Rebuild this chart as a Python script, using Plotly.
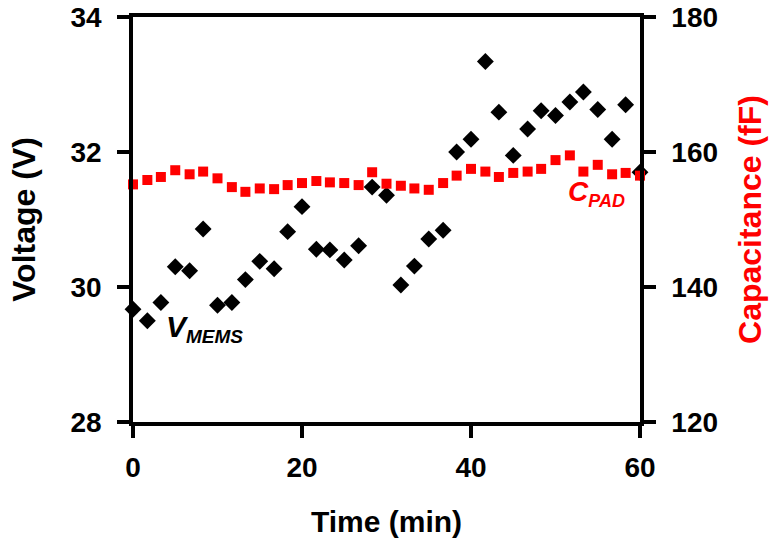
import plotly.graph_objects as go

# Elapsed time (min)
time_min = [0, 1.7, 3.3, 5.0, 6.7, 8.3, 10.0, 11.7, 13.3, 15.0, 16.7, 18.3, 20.0,
            21.7, 23.3, 25.0, 26.7, 28.3, 30.0, 31.7, 33.3, 35.0, 36.7, 38.3, 40.0,
            41.7, 43.3, 45.0, 46.7, 48.3, 50.0, 51.7, 53.3, 55.0, 56.7, 58.3, 60.0]

# MEMS voltage (V), left axis
v_mems = [29.67, 29.50, 29.77, 30.30, 30.24, 30.86, 29.73, 29.77, 30.11, 30.38,
          30.27, 30.82, 31.19, 30.56, 30.55, 30.40, 30.61, 31.48, 31.36, 30.03,
          30.31, 30.71, 30.84, 32.00, 32.19, 33.34, 32.59, 31.95, 32.34, 32.61,
          32.54, 32.74, 32.89, 32.63, 32.19, 32.70, 31.70]

# Pad capacitance (fF), right axis
c_pad = [155.2, 155.85, 156.3, 157.3, 156.7, 157.1, 156.1, 154.8, 154.1, 154.6,
         154.5, 155.1, 155.4, 155.7, 155.5, 155.4, 155.1, 157.0, 155.3, 155.0,
         154.6, 154.4, 155.4, 156.5, 157.5, 157.1, 156.3, 156.9, 157.1, 157.5,
         158.8, 159.5, 157.1, 158.1, 156.7, 156.9, 156.5]

x_ticks = [0, 20, 40, 60]
v_ticks = [28, 30, 32, 34]
c_ticks = [120, 140, 160, 180]

FONT = "Liberation Sans, Arial, sans-serif"
RED = "#ff0000"

fig = go.Figure()

fig.add_trace(go.Scatter(
    x=time_min, y=v_mems, mode="markers", yaxis="y",
    marker=dict(symbol="diamond", size=13, color="black"),
    cliponaxis=False, showlegend=False,
))
fig.add_trace(go.Scatter(
    x=time_min, y=c_pad, mode="markers", yaxis="y2",
    marker=dict(symbol="square", size=10, color=RED),
    cliponaxis=False, showlegend=False,
))

tick_font = dict(family=FONT, size=28, color="black", weight="bold")
axis_common = dict(showline=True, linecolor="black", linewidth=3.5,
                   ticks="outside", ticklen=12, tickwidth=3.5, tickcolor="black",
                   showgrid=False, zeroline=False, automargin=False)

fig.update_layout(
    width=770, height=543,
    margin=dict(l=133, r=130, t=17, b=121),
    paper_bgcolor="white", plot_bgcolor="white",
    xaxis=dict(range=[0, 60], tickvals=x_ticks, mirror=True,
               tickfont=tick_font, ticklabelstandoff=6,
               title=dict(text="Time (min)", standoff=30,
                          font=dict(family=FONT, size=30, color="black", weight="bold")),
               **axis_common),
    yaxis=dict(range=[28, 34], tickvals=v_ticks,
               tickfont=tick_font, ticklabelstandoff=10,
               title=dict(text="Voltage (V)", standoff=26,
                          font=dict(family=FONT, size=32, color="black", weight="bold")),
               **axis_common),
    yaxis2=dict(range=[120, 180], tickvals=c_ticks, overlaying="y", side="right",
                tickfont=tick_font, ticklabelstandoff=10,
                title=dict(text="Capacitance (fF)", standoff=23,
                           font=dict(family=FONT, size=32, color=RED, weight="bold")),
                **axis_common),
)

fig.add_annotation(
    x=3.7, y=29.38, xref="x", yref="y", xanchor="left", yanchor="middle",
    showarrow=False,
    text="<b><i>V</i></b><sub><b><i><span style='font-size:19px'>MEMS</span></i></b></sub>",
    font=dict(family=FONT, size=30, color="black"),
)
fig.add_annotation(
    x=51.2, y=153.8, xref="x", yref="y2", xanchor="left", yanchor="middle",
    showarrow=False,
    text="<b><i>C</i></b><sub><b><i><span style='font-size:18px'>PAD</span></i></b></sub>",
    font=dict(family=FONT, size=28, color=RED),
)

fig.write_html("out.html")
